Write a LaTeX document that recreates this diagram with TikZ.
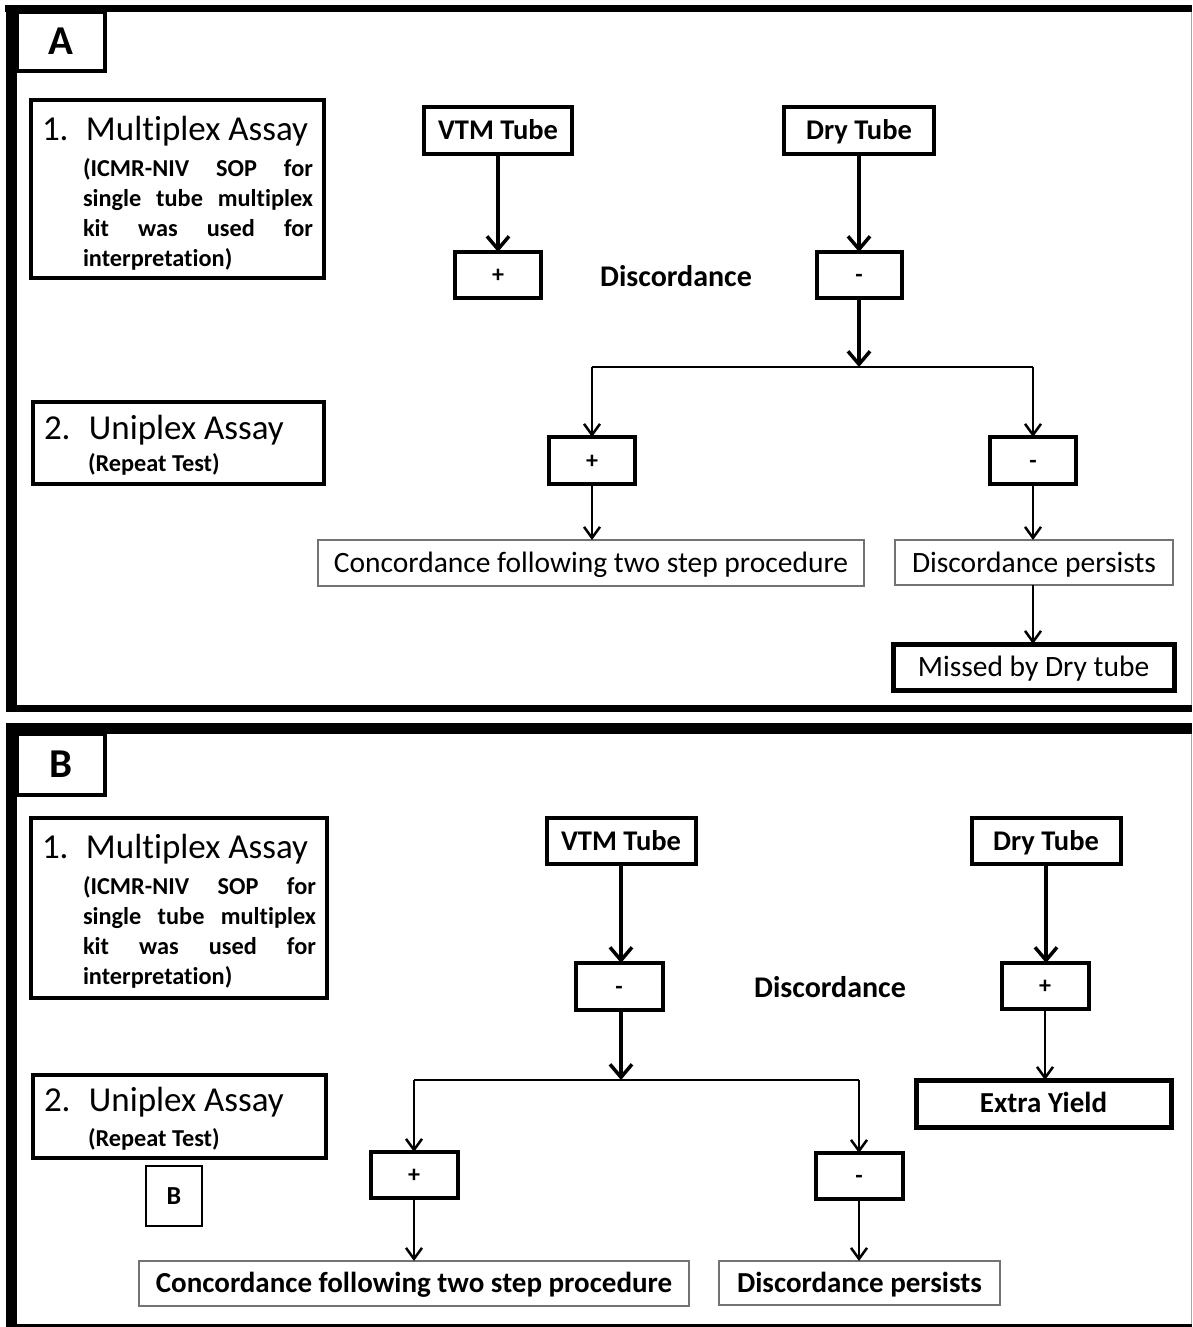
\documentclass[tikz,border=0pt]{standalone}
\usepackage{fontspec}
\setmainfont{Carlito}[Ligatures=NoCommon]
\usetikzlibrary{arrows.meta}
\begin{document}
\begin{tikzpicture}[x=1pt,y=-1pt,
  every node/.style={inner sep=0pt,outer sep=0pt},
  sz/.style 2 args={minimum width=#1pt,minimum height=#2pt},
  heavy/.style={draw,line width=4pt},
  heavier/.style={draw,line width=5pt},
  resbox/.style={draw=black!55,line width=1.3pt},
  smallbox/.style={draw,line width=1.2pt},
  capc/.style={text height=#1pt,text depth=0pt},
  tubef/.style={font=\bfseries\fontsize{28.5}{34}\selectfont,capc=18.4},
  signf/.style={font=\bfseries\fontsize{24}{28}\selectfont,capc=15},
  resf/.style={font=\fontsize{29.5}{34}\selectfont,capc=19},
  resbf/.style={font=\bfseries\fontsize{29}{34}\selectfont,capc=18.7},
  headf/.style={font=\fontsize{35}{40}\selectfont},
  subf/.style={font=\bfseries\fontsize{24.3}{30}\selectfont},
  labf/.style={font=\bfseries\fontsize{41}{44}\selectfont,capc=26.4},
  discf/.style={font=\bfseries\fontsize{30}{34}\selectfont,capc=19.3},
  bigarrow/.style={-{Straight Barb[length=13pt,width=22pt]},line width=3.5pt},
  smallarrow/.style={-{Straight Barb[length=11pt,width=16pt]},line width=2.5pt},
  branchline/.style={line width=2.5pt},
]
\useasboundingbox (0,0) rectangle (1192,1327);
\fill[white] (0,0) rectangle (1192,1327);

% ---------------- Panel A frame ----------------
\draw[black!35,line width=1pt] (1191,12) -- (1191,705);
\fill[black] (5,5) rectangle (1192,12);
\fill[black] (6,5) rectangle (17,712);
\fill[black] (6,705) rectangle (1192,712);

\node[heavy,sz={88}{59},labf] (labA) at (61,41.5) {A};

\node[heavy,sz={293}{178}] (mulA) at (177.5,189) {};
\node[headf,anchor=base west] (hA1) at (42,140) {\makebox[44pt][l]{1.}Multiplex Assay};
\node[subf,anchor=base west] (sA1) at (83,176) {\vtop{\baselineskip=30pt
  \hbox to 230pt{(ICMR-NIV\hfill SOP\hfill for}
  \hbox to 230pt{single\hfill tube\hfill multiplex}
  \hbox to 230pt{kit\hfill was\hfill used\hfill for}
  \hbox{interpretation)}}};

\node[heavy,sz={291}{82}] (uniA) at (178.5,443) {};
\node[headf,anchor=base west] (hA2) at (44,439) {\makebox[45pt][l]{2.}Uniplex Assay};
\node[subf,anchor=base west] (rA) at (88,471) {(Repeat Test)};

\node[heavy,sz={148}{47},tubef] (vtmA) at (498,130.5) {VTM Tube};
\node[heavy,sz={150}{47},tubef] (dryA) at (859,130.5) {Dry Tube};
\node[heavy,sz={86}{46},signf] (plusA) at (498,275) {+};
\node[discf] (discA) at (676,277) {Discordance};
\node[heavy,sz={85}{46},signf] (minusA) at (859,275) {-};

\coordinate (brA) at (859,367);
\coordinate (brAL) at (592,367);
\coordinate (brAR) at (1033,367);

\node[heavy,sz={86}{47},signf] (plusA2) at (592,460.5) {+};
\node[heavy,sz={86}{47},signf] (minusA2) at (1033,460.5) {-};
\node[resbox,sz={546}{46},resf] (concA) at (591,563) {Concordance following two step procedure};
\node[resbox,sz={278}{45},resf] (persA) at (1034,562.5) {Discordance persists};
\node[heavier,sz={281}{46},resf] (missA) at (1033.5,667) {Missed by Dry tube};

\draw[bigarrow] (vtmA.south) -- (plusA.north);
\draw[bigarrow] (dryA.south) -- (minusA.north);
\draw[bigarrow] (minusA.south) -- (brA);
\draw[branchline] (brAL) -- (brAR);
\draw[smallarrow] (brAL) -- (plusA2.north);
\draw[smallarrow] (brAR) -- (minusA2.north);
\draw[smallarrow] (plusA2.south) -- (plusA2.south |- concA.north);
\draw[smallarrow] (minusA2.south) -- (minusA2.south |- persA.north);
\draw[smallarrow] (persA.south -| minusA2.south) -- (missA.north -| minusA2.south);

% ---------------- Panel B frame ----------------
\draw[black!35,line width=1pt] (1191,734) -- (1191,1324);
\fill[black] (6,723) rectangle (1192,734);
\fill[black] (6,723) rectangle (17,1327);
\fill[black] (6,1324) rectangle (1192,1327);

\node[heavy,sz={88}{61},labf] (labB) at (61,764.5) {B};

\node[heavy,sz={296}{180}] (mulB) at (179,908) {};
\node[headf,anchor=base west] (hB1) at (42,858) {\makebox[44pt][l]{1.}Multiplex Assay};
\node[subf,anchor=base west] (sB1) at (83,894) {\vtop{\baselineskip=30.3pt
  \hbox to 233pt{(ICMR-NIV\hfill SOP\hfill for}
  \hbox to 233pt{single\hfill tube\hfill multiplex}
  \hbox to 233pt{kit\hfill was\hfill used\hfill for}
  \hbox{interpretation)}}};

\node[heavy,sz={293}{83}] (uniB) at (179.5,1116.5) {};
\node[headf,anchor=base west] (hB2) at (44,1111) {\makebox[45pt][l]{2.}Uniplex Assay};
\node[subf,anchor=base west] (rB) at (88,1146) {(Repeat Test)};

\node[smallbox,sz={56}{60},font=\bfseries\fontsize{26}{30}\selectfont,capc=16.7] (smB) at (174,1196) {B};

\node[heavy,sz={149}{46},tubef] (vtmB) at (621,841) {VTM Tube};
\node[heavy,sz={149}{46},tubef] (dryB) at (1046,841) {Dry Tube};
\node[heavy,sz={87}{47},signf] (minusB) at (619,986.5) {-};
\node[discf] (discB) at (830,988) {Discordance};
\node[heavy,sz={87}{46},signf] (plusB) at (1045,986) {+};
\node[heavier,sz={255}{47},resbf] (extraB) at (1043.5,1103.5) {Extra Yield};

\coordinate (brB) at (621,1080);
\coordinate (brBL) at (414,1080);
\coordinate (brBR) at (859,1080);

\node[heavy,sz={87}{46},signf] (plusB2) at (414,1175) {+};
\node[heavy,sz={87}{46},signf] (minusB2) at (859,1176) {-};
\node[resbox,sz={550}{45},resbf] (concB) at (414,1283.5) {Concordance following two step procedure};
\node[resbox,sz={281}{44},resbf] (persB) at (859.5,1283) {Discordance persists};

\draw[bigarrow] (vtmB.south) -- (vtmB.south |- minusB.north);
\draw[bigarrow] (dryB.south) -- (dryB.south |- plusB.north);
\draw[smallarrow] (plusB.south) -- (plusB.south |- extraB.north);
\draw[bigarrow] (minusB.south -| vtmB.south) -- (brB);
\draw[branchline] (brBL) -- (brBR);
\draw[smallarrow] (brBL) -- (plusB2.north);
\draw[smallarrow] (brBR) -- (minusB2.north);
\draw[smallarrow] (plusB2.south) -- (plusB2.south |- concB.north);
\draw[smallarrow] (minusB2.south) -- (minusB2.south |- persB.north);
\end{tikzpicture}
\end{document}
